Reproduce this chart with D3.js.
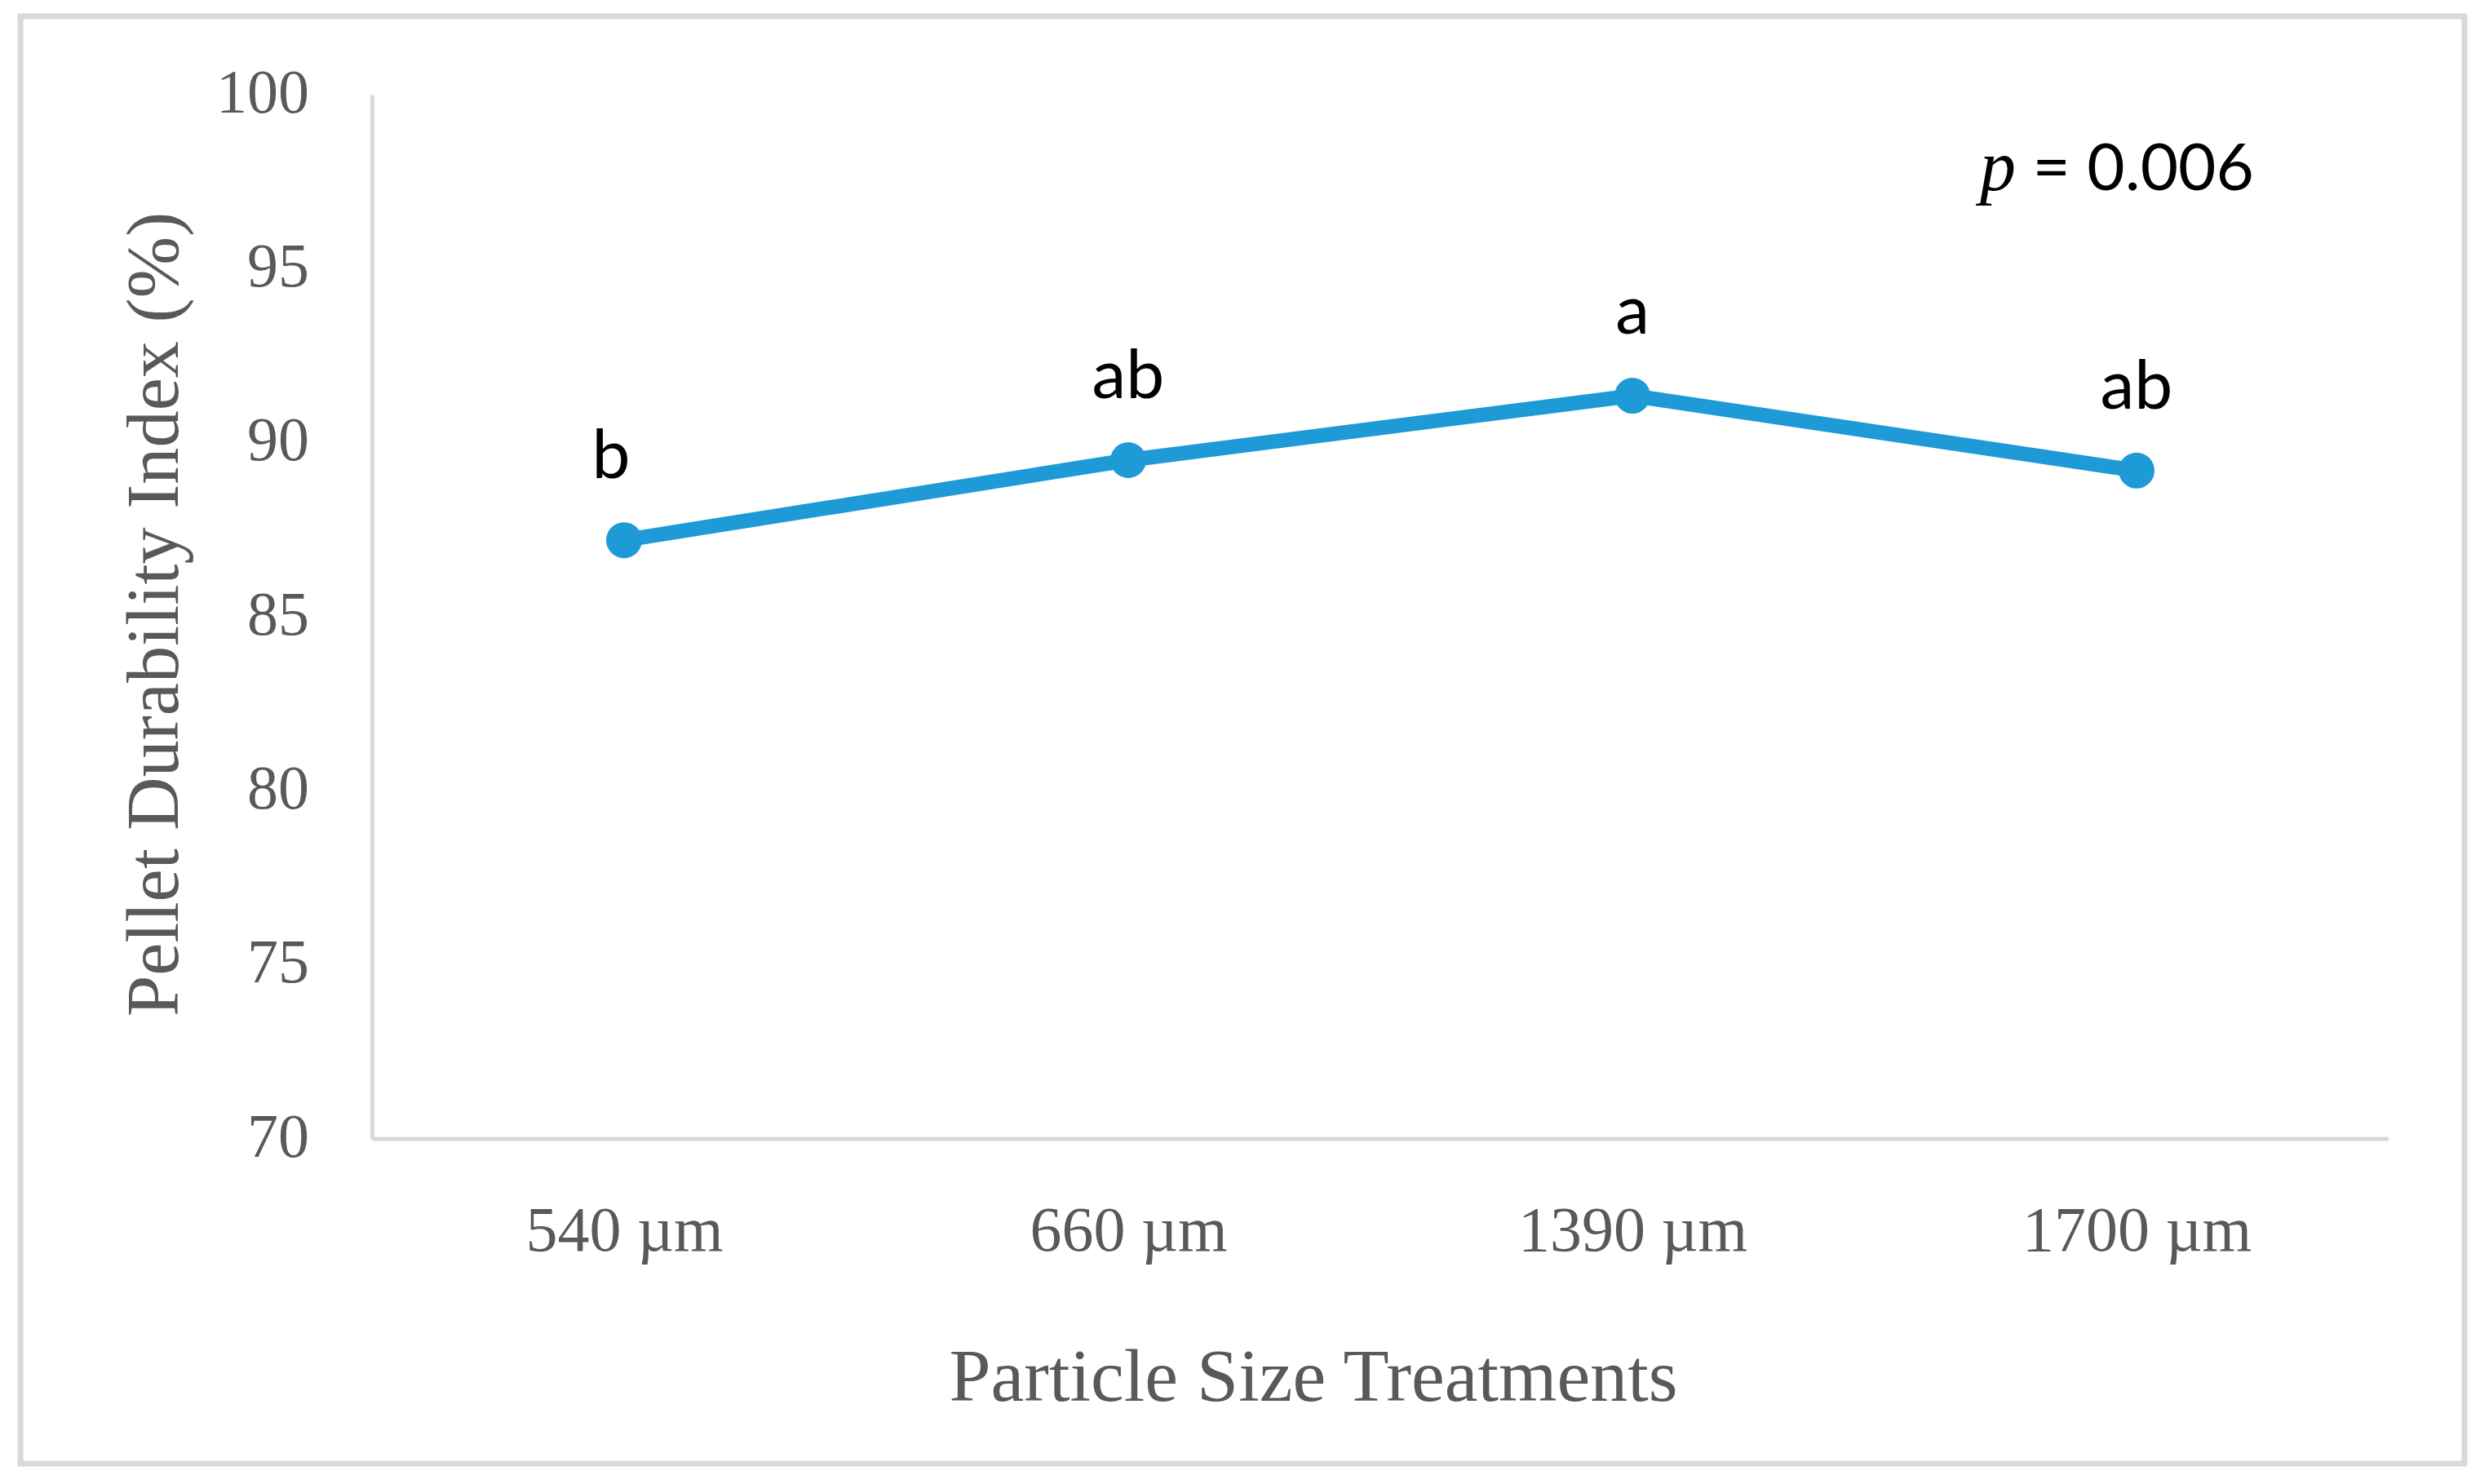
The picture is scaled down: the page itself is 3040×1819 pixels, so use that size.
<!DOCTYPE html>
<meta charset="utf-8">
<script src="https://d3js.org/d3.v7.min.js"></script>
<style>
  body { margin: 0; background: #fff; }
</style>
<div id="chart"></div>
<script>

// data
const treatments = ["540 µm", "660 µm", "1390 µm", "1700 µm"];
const pdi = [87.2, 89.5, 91.35, 89.2];
const letters = ["b", "ab", "a", "ab"];
const yTicks = [70, 75, 80, 85, 90, 95, 100];

const W = 3040, H = 1819;
const plot = {left: 456, right: 2928, top: 116, bottom: 1396};

const svg = d3.select("#chart")
  .append("svg")
  .attr("width", W)
  .attr("height", H);

svg.append("rect")
  .attr("width", W).attr("height", H)
  .attr("fill", "#fff");

// outer frame
svg.append("rect")
  .attr("x", 25).attr("y", 20)
  .attr("width", 2996).attr("height", 1774)
  .attr("fill", "none")
  .attr("stroke", "#d9d9d9")
  .attr("stroke-width", 7);

const x = d3.scalePoint()
  .domain(treatments)
  .range([plot.left, plot.right])
  .padding(0.5);

const y = d3.scaleLinear()
  .domain([70, 100])
  .range([plot.bottom, plot.top]);

const serif = "'Liberation Serif', 'DejaVu Serif', serif";
const sans = "Lato, 'Open Sans', sans-serif";

// y axis
const yAxis = svg.append("g")
  .attr("transform", `translate(${plot.left},0)`)
  .call(d3.axisLeft(y).tickValues(yTicks).tickSize(0).tickPadding(77));
yAxis.select(".domain").attr("stroke", "#d9d9d9").attr("stroke-width", 5);
yAxis.selectAll("text")
  .attr("font-family", serif)
  .attr("font-size", 76)
  .attr("dy", "0.28em")
  .attr("fill", "#595959");

// x axis
const xAxis = svg.append("g")
  .attr("transform", `translate(0,${plot.bottom})`)
  .call(d3.axisBottom(x).tickSize(0).tickPadding(82));
xAxis.select(".domain").attr("stroke", "#d9d9d9").attr("stroke-width", 5)
  .attr("d", `M${plot.left},0H${plot.right}`);
xAxis.selectAll("text")
  .attr("font-family", serif)
  .attr("font-size", 78)
  .attr("fill", "#595959");

// axis titles
svg.append("text")
  .attr("x", 1610).attr("y", 1717)
  .attr("text-anchor", "middle")
  .attr("font-family", serif)
  .attr("font-size", 90)
  .attr("textLength", 893)
  .attr("lengthAdjust", "spacingAndGlyphs")
  .attr("fill", "#595959")
  .text("Particle Size Treatments");

svg.append("text")
  .attr("transform", "translate(218,753) rotate(-90)")
  .attr("text-anchor", "middle")
  .attr("font-family", serif)
  .attr("font-size", 92)
  .attr("textLength", 986)
  .attr("lengthAdjust", "spacingAndGlyphs")
  .attr("fill", "#595959")
  .text("Pellet Durability Index (%)");

// line + markers
const line = d3.line()
  .x((d, i) => x(treatments[i]))
  .y(d => y(d));

svg.append("path")
  .datum(pdi)
  .attr("d", line)
  .attr("fill", "none")
  .attr("stroke", "#1e9ad6")
  .attr("stroke-width", 18)
  .attr("stroke-linejoin", "round");

svg.selectAll("circle.pt")
  .data(pdi)
  .join("circle")
  .attr("class", "pt")
  .attr("cx", (d, i) => x(treatments[i]))
  .attr("cy", d => y(d))
  .attr("r", 22)
  .attr("fill", "#1e9ad6");

// significance letters
svg.selectAll("text.sig")
  .data(pdi)
  .join("text")
  .attr("class", "sig")
  .attr("x", (d, i) => x(treatments[i]) - (letters[i] === "b" ? 16 : 0))
  .attr("y", d => y(d) - 76)
  .attr("text-anchor", "middle")
  .attr("font-family", sans)
  .attr("font-size", 84)
  .attr("fill", "#000")
  .text((d, i) => letters[i]);

// p value
const pText = svg.append("text")
  .attr("x", 2427).attr("y", 233)
  .attr("font-family", sans)
  .attr("font-size", 80)
  .attr("fill", "#000");
pText.append("tspan")
  .attr("font-family", serif)
  .attr("font-style", "italic")
  .attr("font-size", 88)
  .text("p");
pText.append("tspan").text(" = 0.006");

</script>
